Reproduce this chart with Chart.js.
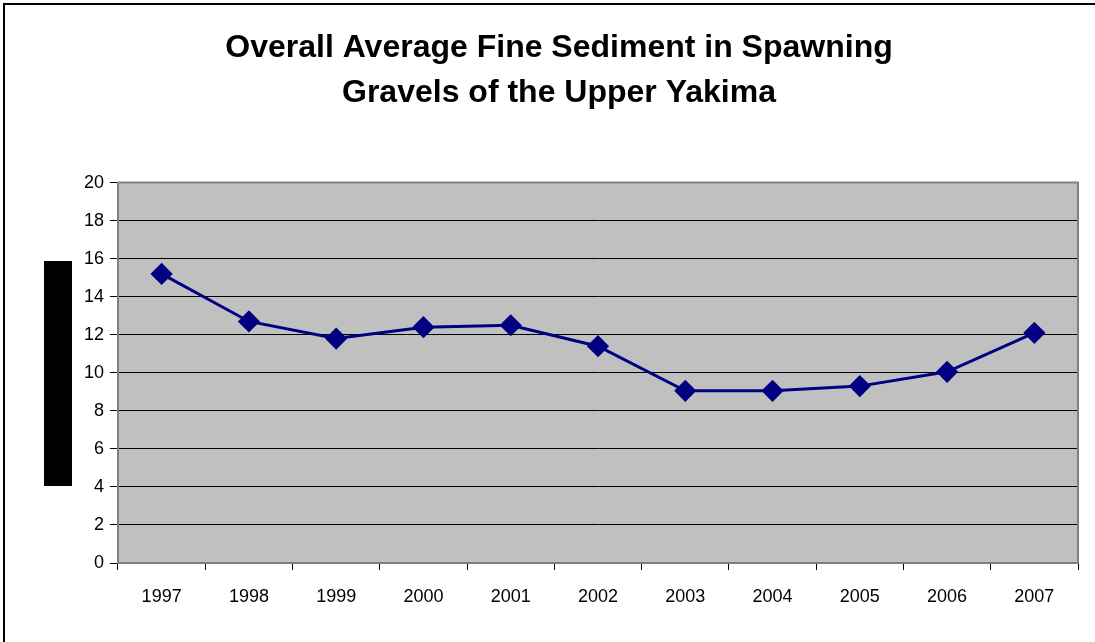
<!DOCTYPE html>
<html>
<head>
<meta charset="utf-8">
<script src="https://cdn.jsdelivr.net/npm/chart.js@4/dist/chart.umd.min.js"></script>
<style>
  body { margin: 0; background: #fff; }
  #wrap { width: 1095px; height: 642px; position: relative; }
</style>
</head>
<body>
<div id="wrap"><canvas id="chart"></canvas></div>
<script>
var years = ["1997", "1998", "1999", "2000", "2001", "2002", "2003", "2004", "2005", "2006", "2007"];
var fineSediment = [15.2, 12.7, 11.8, 12.4, 12.5, 11.4, 9.05, 9.05, 9.3, 10.05, 12.1];
var titleLines = ["Overall Average Fine Sediment in Spawning", "Gravels of the Upper Yakima"];

// grey plot area, outer frame and the blacked-out axis title
var framePlugin = {
  id: "frame",
  beforeDraw: function(chart) {
    var ctx = chart.ctx, a = chart.chartArea;
    ctx.save();
    ctx.fillStyle = "#fff";
    ctx.fillRect(0, 0, chart.width, chart.height);
    ctx.fillStyle = "#c0c0c0";
    ctx.fillRect(a.left, a.top, a.right - a.left, a.bottom - a.top);
    ctx.strokeStyle = "#000";
    ctx.lineWidth = 2;
    ctx.strokeRect(4, 4, chart.width + 20, chart.height + 20);
    ctx.fillStyle = "#000";
    ctx.fillRect(44, 261, 28, 225);
    ctx.restore();
  },
  beforeDatasetsDraw: function(chart) {
    var ctx = chart.ctx, a = chart.chartArea;
    ctx.save();
    ctx.strokeStyle = "#808080";
    ctx.lineWidth = 2;
    ctx.beginPath();
    ctx.moveTo(a.left, a.top);
    ctx.lineTo(a.right, a.top);
    ctx.lineTo(a.right, a.bottom);
    ctx.stroke();
    ctx.restore();
  }
};

var ctx = document.getElementById("chart").getContext("2d");
var myChart = new Chart(ctx, {
  type: "line",
  data: {
    labels: years,
    datasets: [
      {
        label: "Fine sediment",
        data: fineSediment,
        borderColor: "#000080",
        backgroundColor: "#000080",
        borderWidth: 3,
        pointStyle: "rectRot",
        pointRadius: 9,
        pointHoverRadius: 9,
        tension: 0
      }
    ]
  },
  options: {
    responsive: true,
    maintainAspectRatio: false,
    animation: false,
    layout: { padding: { left: 40, right: 17, top: 0, bottom: 0 } },
    plugins: {
      legend: { display: false },
      tooltip: { enabled: false },
      title: {
        display: true,
        text: titleLines,
        color: "#000",
        font: { family: "'Liberation Sans', Arial, sans-serif", size: 32, weight: "bold", lineHeight: 1.4 },
        padding: { top: 26, bottom: 67 }
      }
    },
    scales: {
      x: {
        offset: true,
        grid: {
          offset: true,
          drawOnChartArea: false,
          drawTicks: true,
          tickLength: 7,
          color: "#000"
        },
        border: { color: "#808080", width: 2 },
        ticks: {
          color: "#000",
          padding: 16,
          maxRotation: 0,
          font: { family: "'Liberation Sans', Arial, sans-serif", size: 18 }
        },
        afterFit: function(scale) { scale.height = 79; }
      },
      y: {
        min: 0,
        max: 20,
        ticks: {
          stepSize: 2,
          color: "#000",
          padding: 6,
          font: { family: "'Liberation Sans', Arial, sans-serif", size: 18 }
        },
        grid: { color: "#000", tickLength: 8, lineWidth: 1 },
        border: { color: "#808080", width: 2 },
        afterFit: function(scale) { scale.width = 78; }
      }
    }
  },
  plugins: [framePlugin]
});
</script>
</body>
</html>
